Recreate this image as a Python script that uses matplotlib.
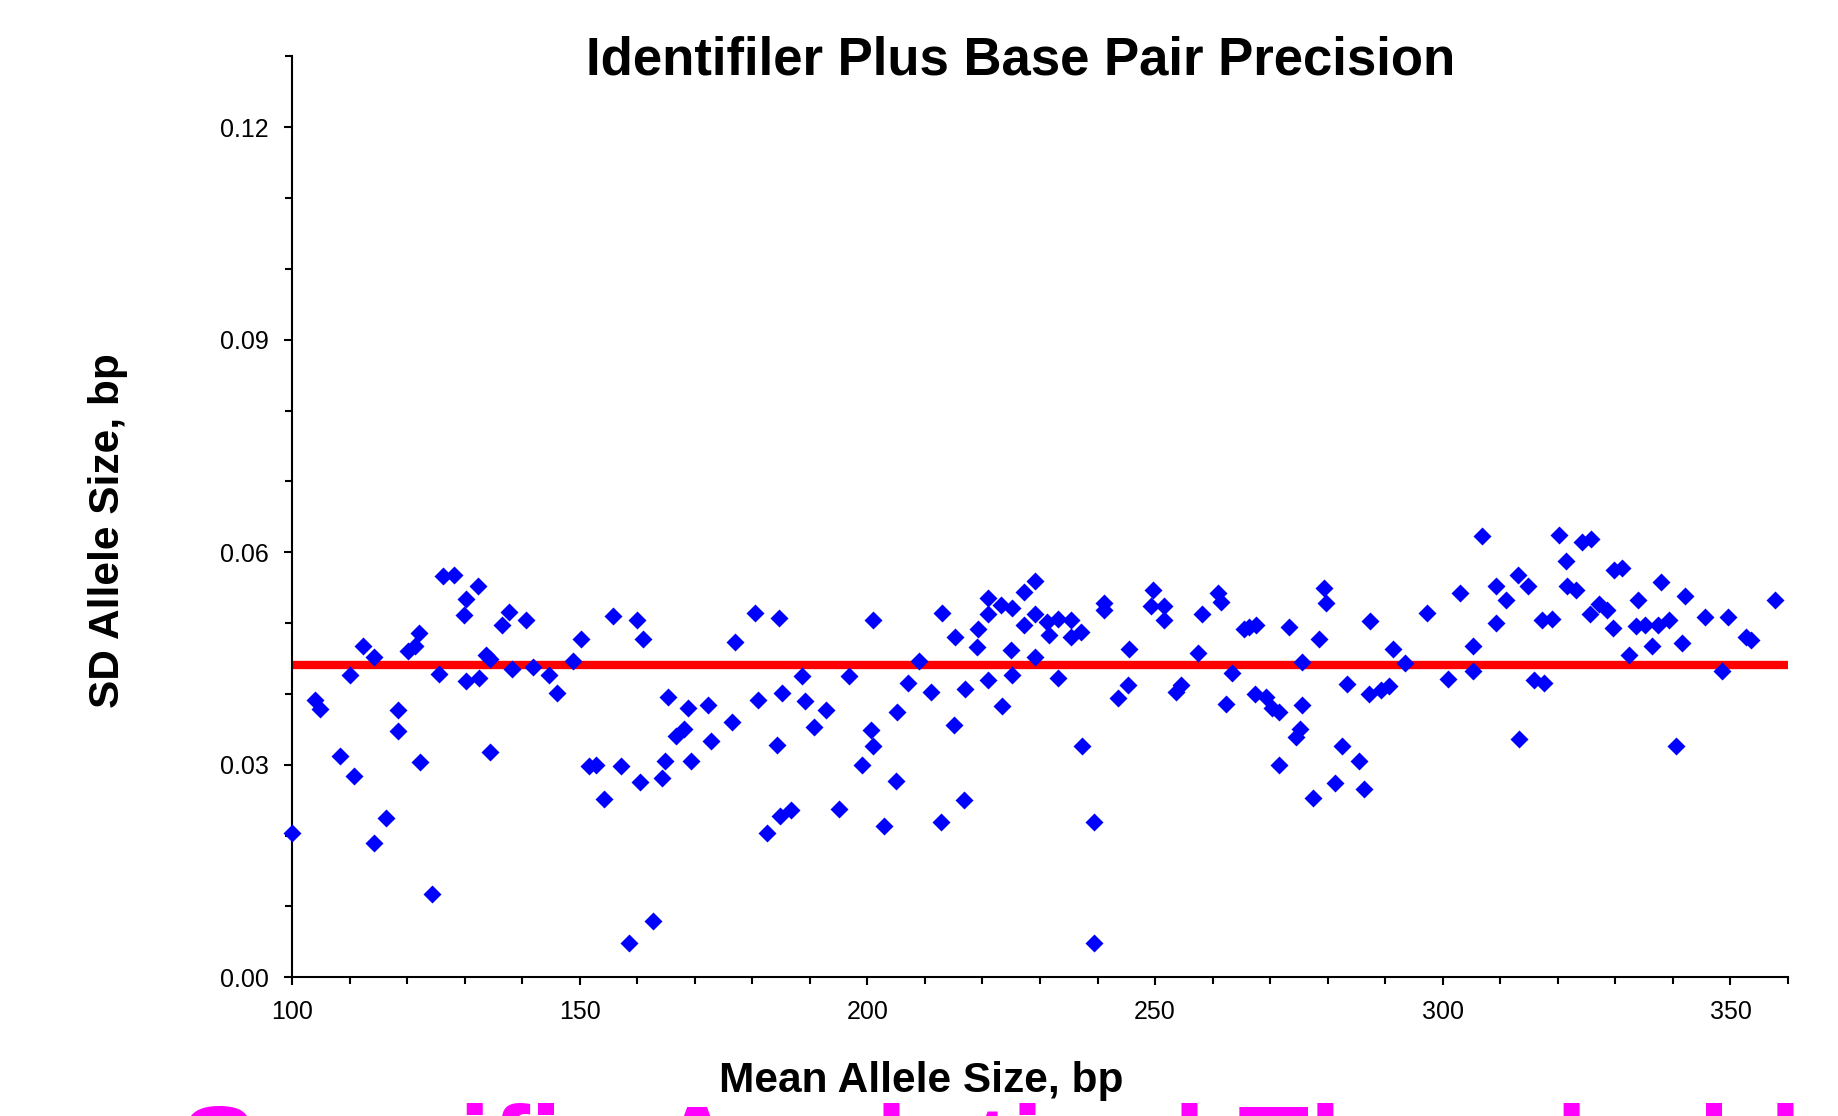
import matplotlib
matplotlib.use("Agg")
import matplotlib.pyplot as plt
from matplotlib.ticker import MultipleLocator

plt.rcParams['font.family'] = ['Liberation Sans', 'DejaVu Sans']

title = "Identifiler Plus Base Pair Precision"
xlabel = "Mean Allele Size, bp"
ylabel = "SD Allele Size, bp"
footer = "Specific Analytical Threshold"

mean_size_bp = [
    100.0, 104.0, 104.9, 108.3, 110.7, 110.1, 112.3, 114.3, 114.3, 116.4,
    118.4, 118.4, 120.2, 121.4, 122.1, 122.3, 124.3, 125.6, 126.2, 128.2,
    130.2, 129.8, 130.2, 132.3, 132.5, 133.7, 134.4, 134.4, 136.5, 137.7,
    138.3, 140.6, 141.9, 144.7, 146.1, 148.8, 150.2, 151.6, 152.9, 154.3,
    155.8, 157.1, 158.5, 160.0, 161.0, 160.4, 162.8, 164.3, 164.8, 165.4,
    166.8, 168.1, 168.8, 169.4, 172.3, 172.9, 176.5, 176.9, 180.5, 181.0,
    182.6, 184.2, 184.6, 185.1, 184.8, 186.7, 188.7, 189.2, 190.8, 192.8,
    195.0, 196.8, 199.0, 200.6, 200.9, 201.0, 202.9, 204.9, 205.1, 207.0,
    209.0, 211.0, 212.8, 212.9, 215.0, 215.2, 216.8, 217.0, 219.1, 219.3,
    221.0, 221.0, 221.0, 223.2, 225.2, 223.4, 225.0, 225.1, 227.2, 227.3,
    229.1, 229.2, 229.2, 231.2, 231.5, 233.2, 233.2, 235.3, 235.3, 237.1,
    237.3, 239.4, 239.3, 241.2, 241.1, 243.5, 245.3, 245.5, 249.2, 249.7,
    251.6, 251.6, 253.6, 254.5, 257.5, 258.2, 261.0, 261.5, 262.3, 263.4,
    265.5, 266.3, 267.5, 267.4, 269.2, 270.4, 271.6, 271.6, 273.2, 274.5,
    275.2, 275.5, 275.6, 277.4, 278.5, 279.4, 279.7, 281.3, 282.4, 283.4,
    285.4, 286.3, 287.4, 287.2, 289.2, 290.6, 291.4, 293.4, 297.3, 300.9,
    303.0, 305.2, 305.3, 306.8, 309.3, 309.2, 310.9, 313.0, 313.3, 314.8,
    315.8, 317.6, 317.3, 319.0, 320.2, 321.4, 321.6, 323.2, 324.2, 325.8,
    325.5, 327.1, 328.5, 329.6, 329.7, 331.2, 332.3, 334.0, 333.5, 335.2,
    336.4, 337.4, 338.0, 339.3, 340.5, 341.5, 342.1, 345.5, 348.6, 349.5,
    352.7, 353.6, 357.8,
]

sd_size_bp = [
    0.0204, 0.0392, 0.0379, 0.0313, 0.0284, 0.0427, 0.0467, 0.0452, 0.0189, 0.0225,
    0.0378, 0.0347, 0.0460, 0.0467, 0.0486, 0.0304, 0.0117, 0.0428, 0.0566, 0.0568,
    0.0534, 0.0512, 0.0418, 0.0553, 0.0423, 0.0455, 0.0450, 0.0318, 0.0497, 0.0516,
    0.0435, 0.0504, 0.0438, 0.0427, 0.0402, 0.0447, 0.0477, 0.0298, 0.0299, 0.0251,
    0.0510, 0.0298, 0.0049, 0.0504, 0.0477, 0.0276, 0.0079, 0.0282, 0.0306, 0.0396,
    0.0341, 0.0350, 0.0380, 0.0305, 0.0385, 0.0333, 0.0361, 0.0473, 0.0514, 0.0392,
    0.0203, 0.0328, 0.0507, 0.0401, 0.0227, 0.0236, 0.0426, 0.0390, 0.0354, 0.0378,
    0.0237, 0.0426, 0.0300, 0.0349, 0.0326, 0.0505, 0.0214, 0.0277, 0.0375, 0.0415,
    0.0446, 0.0403, 0.0219, 0.0514, 0.0356, 0.0480, 0.0250, 0.0407, 0.0466, 0.0491,
    0.0535, 0.0513, 0.0420, 0.0526, 0.0522, 0.0383, 0.0462, 0.0427, 0.0544, 0.0497,
    0.0559, 0.0513, 0.0452, 0.0501, 0.0483, 0.0506, 0.0423, 0.0505, 0.0481, 0.0488,
    0.0326, 0.0219, 0.0049, 0.0529, 0.0519, 0.0394, 0.0412, 0.0463, 0.0524, 0.0547,
    0.0524, 0.0505, 0.0403, 0.0413, 0.0458, 0.0513, 0.0543, 0.0530, 0.0386, 0.0430,
    0.0492, 0.0494, 0.0497, 0.0400, 0.0396, 0.0380, 0.0374, 0.0299, 0.0494, 0.0339,
    0.0350, 0.0384, 0.0445, 0.0253, 0.0477, 0.0550, 0.0528, 0.0274, 0.0327, 0.0414,
    0.0305, 0.0266, 0.0503, 0.0400, 0.0406, 0.0411, 0.0463, 0.0444, 0.0514, 0.0421,
    0.0543, 0.0467, 0.0432, 0.0623, 0.0553, 0.0500, 0.0533, 0.0568, 0.0336, 0.0553,
    0.0419, 0.0415, 0.0504, 0.0506, 0.0625, 0.0588, 0.0552, 0.0547, 0.0615, 0.0619,
    0.0513, 0.0527, 0.0519, 0.0493, 0.0575, 0.0578, 0.0455, 0.0532, 0.0496, 0.0497,
    0.0468, 0.0497, 0.0558, 0.0504, 0.0326, 0.0472, 0.0538, 0.0508, 0.0432, 0.0508,
    0.0481, 0.0476, 0.0532,
]

mean_sd_line = 0.0441

fig = plt.figure(figsize=(18.38, 11.16), dpi=100)
ax = fig.add_axes([0.1589, 0.1243, 0.8139, 0.8251])

ax.axhline(mean_sd_line, color='#FF0000', lw=6, zorder=2, solid_capstyle='butt')
ax.scatter(mean_size_bp, sd_size_bp, marker='D', s=84, color='#0000FF',
           linewidths=0, zorder=3, clip_on=False)

ax.set_xlim(100, 360)
ax.set_ylim(0, 0.13)
ax.xaxis.set_major_locator(MultipleLocator(50))
ax.xaxis.set_minor_locator(MultipleLocator(10))
ax.yaxis.set_major_locator(MultipleLocator(0.03))
ax.yaxis.set_minor_locator(MultipleLocator(0.01))
ax.set_yticks([0.0, 0.03, 0.06, 0.09, 0.12])
ax.set_yticklabels(['0.00', '0.03', '0.06', '0.09', '0.12'])

for s in ['top', 'right']:
    ax.spines[s].set_visible(False)
for s in ['left', 'bottom']:
    ax.spines[s].set_linewidth(1.5)
    ax.spines[s].set_color('black')

ax.tick_params(axis='both', which='both', direction='out', width=1.5, color='black')
ax.tick_params(axis='both', which='major', length=6, labelsize=18)
ax.tick_params(axis='both', which='minor', length=5)
ax.tick_params(axis='y', which='major', pad=11)
ax.tick_params(axis='x', which='major', pad=10)

fig.text(0.5555, 0.9328, title, ha='center', va='baseline',
         fontsize=38, fontweight='bold')
fig.text(0.501, 0.0215, xlabel, ha='center', va='baseline',
         fontsize=30.5, fontweight='bold')
fig.text(0.0588, 0.525, ylabel, ha='center', va='center', rotation=90,
         fontsize=30.5, fontweight='bold')
fig.text(180 / 1838, -0.0645, footer, ha='left', va='baseline',
         fontsize=84, fontweight='bold', color='#FF00FF')

fig.savefig('out.png', dpi=100)
